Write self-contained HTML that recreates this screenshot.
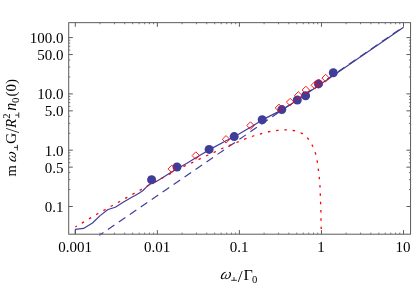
<!DOCTYPE html>
<html><head><meta charset="utf-8"><style>
html,body{margin:0;padding:0;background:#fff}
body{width:415px;height:283px;position:relative;overflow:hidden;font-family:"Liberation Serif",serif;color:#000}
.t{position:absolute;font-size:15px;transform:translateZ(0);line-height:14px;white-space:nowrap}
.yl{text-align:right;width:60px;left:3.6px}
.xl{text-align:center;width:60px}
</style></head><body>
<svg width="415" height="283" viewBox="0 0 415 283" style="position:absolute;left:0;top:0;transform:translateZ(0)">
<path d="M99.4 235.38L403.6 26.7" stroke="#3f3d99" stroke-width="1.2" stroke-dasharray="7.9 5.39" stroke-dashoffset="3.0" fill="none"/>
<path d="M75.4 233.9L75.4 229.3L83.5 228.4L92.5 223L100.1 215.6L108 209.5L115.3 207.2L124 201.8L132.7 196.8L135.1 195.5L139.4 193.0L143 190.5L146.6 186.8L148.9 185.0L151.6 183.2L156.4 181.4L160 179.3L163.3 177.2L170.8 172.6L177.4 168.6L186.5 163.4L200 155.3L209 149.9L226.1 140.7L234.3 136.7L250.5 127.2L262.3 119.9L282 109.9L298 99.55L319 85.2L333 75.65L403.6 27.25" stroke="#3f3d99" stroke-width="1.2" fill="none" stroke-linejoin="round"/>
<path d="M75.4 226.9L97.6 213.8L104.9 209.8L112.1 205.7L119.3 201.7L126.6 197.6L133.8 193.6L141.1 189.5L148.3 185.5L163.3 177.5L171.1 173.3L185.3 165.7L192.8 162.4L198.9 159.3L214 152.4L223.2 148L232.4 144.2L245.1 138.9L253.3 136.0L262.3 133.4L269.1 131.7L277.6 130.4L285.7 129.8L294.4 130.7L302 133.4L308 138.5L312.5 145.7L315.5 153.5L317.3 161.7L318.4 169.7L319.35 178L320 186.6L320.3 194.5L320.6 203.1L320.9 211.4L321.0 220L321.2 227.9L321.3 233.9" stroke="#ff0000" stroke-width="1.3" stroke-dasharray="2.5 5.81" stroke-dashoffset="0.85" fill="none"/>
<path d="M75.30 234.2v-4.1M75.30 22.66v4.1M157.35 234.2v-4.1M157.35 22.66v4.1M239.40 234.2v-4.1M239.40 22.66v4.1M321.45 234.2v-4.1M321.45 22.66v4.1M403.50 234.2v-4.1M403.50 22.66v4.1M68.7 206.50h4.1M410.55 206.50h-4.1M68.7 167.15h4.1M410.55 167.15h-4.1M68.7 150.20h4.1M410.55 150.20h-4.1M68.7 110.85h4.1M410.55 110.85h-4.1M68.7 93.90h4.1M410.55 93.90h-4.1M68.7 54.55h4.1M410.55 54.55h-4.1M68.7 37.60h4.1M410.55 37.60h-4.1" stroke="#5c5c5c" stroke-width="1" fill="none"/>
<path d="M100.00 234.2v-1.6M100.00 22.66v1.6M114.45 234.2v-1.6M114.45 22.66v1.6M124.70 234.2v-1.6M124.70 22.66v1.6M132.65 234.2v-1.6M132.65 22.66v1.6M139.15 234.2v-1.6M139.15 22.66v1.6M144.64 234.2v-1.6M144.64 22.66v1.6M149.40 234.2v-1.6M149.40 22.66v1.6M153.60 234.2v-1.6M153.60 22.66v1.6M182.05 234.2v-1.6M182.05 22.66v1.6M196.50 234.2v-1.6M196.50 22.66v1.6M206.75 234.2v-1.6M206.75 22.66v1.6M214.70 234.2v-1.6M214.70 22.66v1.6M221.20 234.2v-1.6M221.20 22.66v1.6M226.69 234.2v-1.6M226.69 22.66v1.6M231.45 234.2v-1.6M231.45 22.66v1.6M235.65 234.2v-1.6M235.65 22.66v1.6M264.10 234.2v-1.6M264.10 22.66v1.6M278.55 234.2v-1.6M278.55 22.66v1.6M288.80 234.2v-1.6M288.80 22.66v1.6M296.75 234.2v-1.6M296.75 22.66v1.6M303.25 234.2v-1.6M303.25 22.66v1.6M308.74 234.2v-1.6M308.74 22.66v1.6M313.50 234.2v-1.6M313.50 22.66v1.6M317.70 234.2v-1.6M317.70 22.66v1.6M346.15 234.2v-1.6M346.15 22.66v1.6M360.60 234.2v-1.6M360.60 22.66v1.6M370.85 234.2v-1.6M370.85 22.66v1.6M378.80 234.2v-1.6M378.80 22.66v1.6M385.30 234.2v-1.6M385.30 22.66v1.6M390.79 234.2v-1.6M390.79 22.66v1.6M395.55 234.2v-1.6M395.55 22.66v1.6M399.75 234.2v-1.6M399.75 22.66v1.6M68.7 189.55h1.6M410.55 189.55h-1.6M68.7 179.64h1.6M410.55 179.64h-1.6M68.7 172.60h1.6M410.55 172.60h-1.6M68.7 162.69h1.6M410.55 162.69h-1.6M68.7 158.92h1.6M410.55 158.92h-1.6M68.7 155.66h1.6M410.55 155.66h-1.6M68.7 152.78h1.6M410.55 152.78h-1.6M68.7 133.25h1.6M410.55 133.25h-1.6M68.7 123.34h1.6M410.55 123.34h-1.6M68.7 116.30h1.6M410.55 116.30h-1.6M68.7 106.39h1.6M410.55 106.39h-1.6M68.7 102.62h1.6M410.55 102.62h-1.6M68.7 99.36h1.6M410.55 99.36h-1.6M68.7 96.48h1.6M410.55 96.48h-1.6M68.7 76.95h1.6M410.55 76.95h-1.6M68.7 67.04h1.6M410.55 67.04h-1.6M68.7 60.00h1.6M410.55 60.00h-1.6M68.7 50.09h1.6M410.55 50.09h-1.6M68.7 46.32h1.6M410.55 46.32h-1.6M68.7 43.06h1.6M410.55 43.06h-1.6M68.7 40.18h1.6M410.55 40.18h-1.6" stroke="#7a7a7a" stroke-width="1" fill="none"/>
<rect x="68.7" y="22.66" width="341.85" height="211.54" fill="none" stroke="#5c5c5c" stroke-width="1"/>
<circle cx="151.6" cy="179.7" r="4.5" fill="#3f3d99"/>
<circle cx="177.0" cy="167.0" r="4.5" fill="#3f3d99"/>
<circle cx="209.1" cy="149.4" r="4.5" fill="#3f3d99"/>
<circle cx="234.2" cy="136.6" r="4.5" fill="#3f3d99"/>
<circle cx="262.2" cy="119.8" r="4.5" fill="#3f3d99"/>
<circle cx="281.8" cy="109.6" r="4.5" fill="#3f3d99"/>
<circle cx="297.3" cy="100.0" r="4.5" fill="#3f3d99"/>
<circle cx="305.6" cy="95.8" r="4.5" fill="#3f3d99"/>
<circle cx="318.5" cy="83.9" r="4.5" fill="#3f3d99"/>
<circle cx="333.3" cy="72.7" r="4.5" fill="#3f3d99"/>
<path d="M168.1 168.9L171.8 165.2L175.6 168.9L171.8 172.7Z" fill="none" stroke="#ff0000" stroke-width="0.9"/>
<path d="M192.1 155.6L195.8 151.8L199.6 155.6L195.8 159.3Z" fill="none" stroke="#ff0000" stroke-width="0.9"/>
<path d="M222.3 139.3L226.1 135.6L229.8 139.3L226.1 143.1Z" fill="none" stroke="#ff0000" stroke-width="0.9"/>
<path d="M246.8 125.5L250.5 121.8L254.2 125.5L250.5 129.2Z" fill="none" stroke="#ff0000" stroke-width="0.9"/>
<path d="M275.2 107.9L279 104.2L282.8 107.9L279 111.7Z" fill="none" stroke="#ff0000" stroke-width="0.9"/>
<path d="M286.4 102.1L290.2 98.3L293.9 102.1L290.2 105.8Z" fill="none" stroke="#ff0000" stroke-width="0.9"/>
<path d="M294.6 95.4L298.3 91.7L302.1 95.4L298.3 99.2Z" fill="none" stroke="#ff0000" stroke-width="0.9"/>
<path d="M302.1 90.0L305.9 86.2L309.6 90.0L305.9 93.8Z" fill="none" stroke="#ff0000" stroke-width="0.9"/>
<path d="M311.1 85.3L314.8 81.5L318.6 85.3L314.8 89.0Z" fill="none" stroke="#ff0000" stroke-width="0.9"/>
<path d="M314.9 82.8L318.6 79.0L322.4 82.8L318.6 86.5Z" fill="none" stroke="#ff0000" stroke-width="0.9"/>
<path d="M321.9 78.1L325.6 74.3L329.4 78.1L325.6 81.8Z" fill="none" stroke="#ff0000" stroke-width="0.9"/>
<g font-family="Liberation Serif" fill="#000" text-anchor="middle">
<text transform="translate(225.7 279.25) skewX(-14)" x="-0.5" y="0" font-size="15.5" font-style="italic">ω</text>
<path d="M231.2 280.3H236.9M234 280.3V277" stroke="#000" stroke-width="0.8" fill="none"/>
<text x="240.3" y="282.0" font-size="17.5">/</text>
<text transform="translate(248.2 279.6) scale(1.15 1)" x="0" y="0" font-size="14">Γ</text>
<text x="254.6" y="283.2" font-size="10.7">0</text>
<g transform="rotate(-90)">
<text x="-170.75" y="16.1" font-size="14.5">m</text>
<text transform="translate(-156.4 16.1) skewX(-14)" x="-1.0" y="0" font-size="15" font-style="italic">ω</text>
<path d="M-150.5 17.4H-144.8M-147.4 17.4V14.0" stroke="#000" stroke-width="0.8" fill="none"/>
<text x="-138.3" y="16.2" font-size="15.5">G</text>
<text x="-130.4" y="18.7" font-size="18">/</text>
<text x="-123.35" y="16.1" font-size="15" font-style="italic">R</text>
<text x="-116.0" y="9.5" font-size="10.7">2</text>
<path d="M-117.8 18.75H-112.4M-115.1 18.75V15.2" stroke="#000" stroke-width="0.8" fill="none"/>
<text x="-106.65" y="16.1" font-size="16" font-style="italic">n</text>
<text x="-100.45" y="18.9" font-size="10.7">0</text>
<text x="-87.8" y="16.1" font-size="15">(0)</text>
</g></g>
</svg>
<div class="t yl" style="top:30.8px">100.0</div>
<div class="t yl" style="top:47.8px">50.0</div>
<div class="t yl" style="top:87.1px">10.0</div>
<div class="t yl" style="top:104.1px">5.0</div>
<div class="t yl" style="top:143.5px">1.0</div>
<div class="t yl" style="top:160.5px">0.5</div>
<div class="t yl" style="top:199.8px">0.1</div>
<div class="t xl" style="left:45px;top:240.3px">0.001</div>
<div class="t xl" style="left:127px;top:240.3px">0.01</div>
<div class="t xl" style="left:209px;top:240.3px">0.1</div>
<div class="t xl" style="left:291px;top:240.3px">1</div>
<div class="t xl" style="left:373px;top:240.3px">10</div>
</body></html>
